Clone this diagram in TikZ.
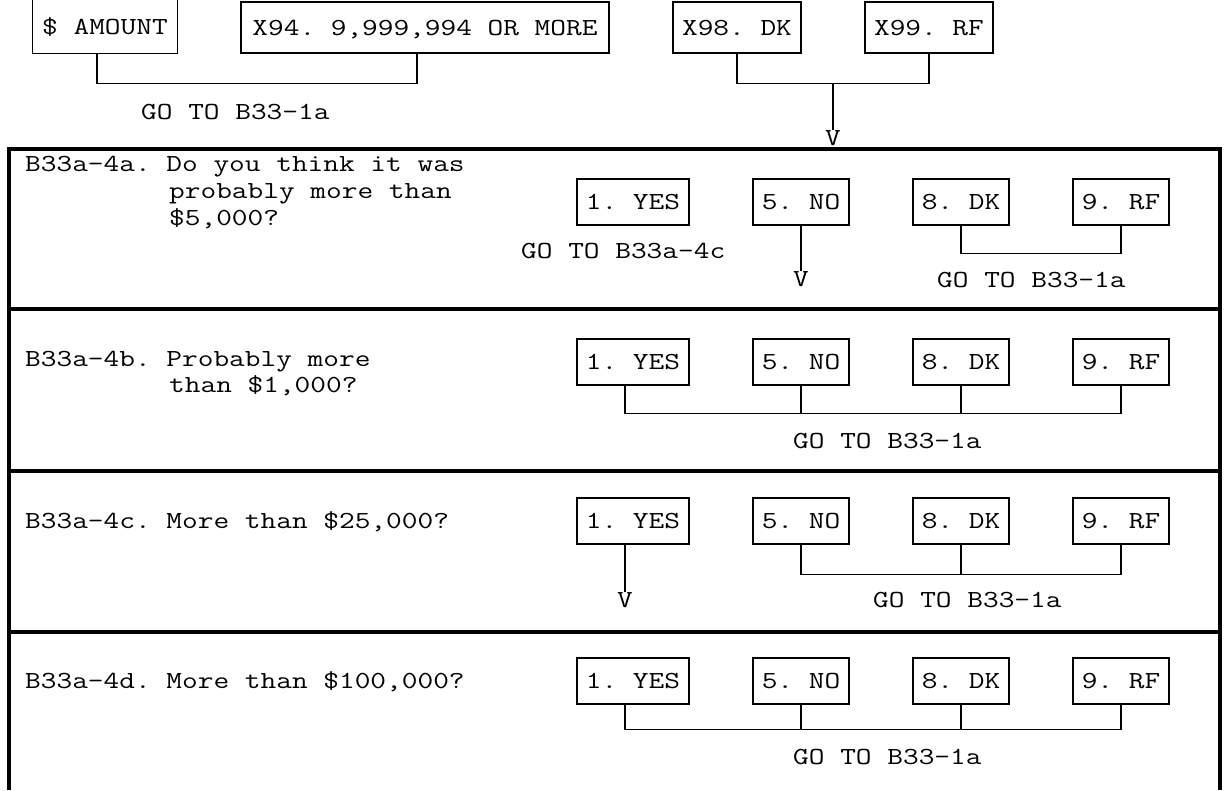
\documentclass[tikz,border=0pt]{standalone}
\usepackage{fontspec}
\setmonofont[FakeStretch=1.244]{Latin Modern Mono}
\begin{document}
\begin{tikzpicture}[x=1pt,y=-1pt,
  every node/.style={font=\ttfamily\fontsize{24.5}{23}\selectfont\frenchspacing, inner sep=0pt},
  box/.style={draw, line width=1.2pt, minimum height=46pt, text height=15pt, text depth=0pt},
  topbox/.style={box, minimum height=51pt},
  openbox/.style={minimum height=53pt, text height=15pt, text depth=0pt},
  conn/.style={line width=1.2pt},
  frame/.style={line width=3.2pt},
  lbl/.style={anchor=base west},
  vmark/.style={anchor=base, text height=15pt}]
\useasboundingbox (0,0) rectangle (1225,790);

% ---------- top section ----------
\node[openbox, minimum width=144pt] (am) at (105,26.5) {\$ AMOUNT};
\draw[conn] (am.north west) -- (am.south west) -- (am.south east) -- (am.north east);
\node[topbox, minimum width=368pt] (x94) at (425,27.5) {X94. 9,999,994 OR MORE};
\node[topbox, minimum width=128pt] (x98) at (737,27.5) {X98. DK};
\node[topbox, minimum width=128pt] (x99) at (929,27.5) {X99. RF};
\draw[conn] ([xshift=-8pt]am.south) -- ++(0,30) -| ([xshift=-8pt]x94.south);
\node[lbl] (g0) at (141,119) {GO TO B33-1a};
\draw[conn] (x98.south) -- ++(0,30) -| (x99.south);
\coordinate (m0) at (833,83);
\node[vmark] (v0) at (833,145) {V};
\draw[conn] (m0) -- (v0.north);

% ---------- frame ----------
\draw[frame] (9,790) -- (9,149) -- (1220,149) -- (1220,790);
\draw[frame] (9,309) -- (1220,309);
\draw[frame] (9,471) -- (1220,471);
\draw[frame] (9,632) -- (1220,632);

% ---------- row 1 ----------
\node[lbl] (q1a) at (25,171) {B33a-4a. Do you think it was};
\node[lbl] (q1b) at (169,198) {probably more than};
\node[lbl] (q1c) at (169,225) {\$5,000?};
\node[box, minimum width=112pt] (a1) at (633,202) {1. YES};
\node[box, minimum width=96pt] (a5) at (801,202) {5. NO};
\node[box, minimum width=96pt] (a8) at (961,202) {8. DK};
\node[box, minimum width=96pt] (a9) at (1121,202) {9. RF};
\node[lbl] (ag1) at (521,258) {GO TO B33a-4c};
\node[vmark] (av) at (801,286) {V};
\draw[conn] (a5.south) -- (av.north);
\draw[conn] (a8.south) -- ++(0,28) -| (a9.south);
\node[lbl] (ag2) at (937,287) {GO TO B33-1a};

% ---------- row 2 ----------
\node[lbl] (q2a) at (25,366) {B33a-4b. Probably more};
\node[lbl] (q2b) at (169,392) {than \$1,000?};
\node[box, minimum width=112pt] (b1) at (633,362) {1. YES};
\node[box, minimum width=96pt] (b5) at (801,362) {5. NO};
\node[box, minimum width=96pt] (b8) at (961,362) {8. DK};
\node[box, minimum width=96pt] (b9) at (1121,362) {9. RF};
\draw[conn] ([xshift=-8pt]b1.south) -- ++(0,28) -| (b9.south);
\draw[conn] (b5.south) -- ++(0,28);
\draw[conn] (b8.south) -- ++(0,28);
\node[lbl] (bg) at (793,448) {GO TO B33-1a};

% ---------- row 3 ----------
\node[lbl] (q3) at (25,528) {B33a-4c. More than \$25,000?};
\node[box, minimum width=112pt] (c1) at (633,521) {1. YES};
\node[box, minimum width=96pt] (c5) at (801,521) {5. NO};
\node[box, minimum width=96pt] (c8) at (961,521) {8. DK};
\node[box, minimum width=96pt] (c9) at (1121,521) {9. RF};
\node[vmark] (cv) at (625,607) {V};
\draw[conn] ([xshift=-8pt]c1.south) -- (cv.north);
\draw[conn] (c5.south) -- ++(0,30) -| (c9.south);
\draw[conn] (c8.south) -- ++(0,30);
\node[lbl] (cg) at (873,607) {GO TO B33-1a};

% ---------- row 4 ----------
\node[lbl] (q4) at (25,688) {B33a-4d. More than \$100,000?};
\node[box, minimum width=112pt] (d1) at (633,681) {1. YES};
\node[box, minimum width=96pt] (d5) at (801,681) {5. NO};
\node[box, minimum width=96pt] (d8) at (961,681) {8. DK};
\node[box, minimum width=96pt] (d9) at (1121,681) {9. RF};
\draw[conn] ([xshift=-8pt]d1.south) -- ++(0,25) -| (d9.south);
\draw[conn] (d5.south) -- ++(0,25);
\draw[conn] (d8.south) -- ++(0,25);
\node[lbl] (dg) at (793,764) {GO TO B33-1a};
\end{tikzpicture}
\end{document}
